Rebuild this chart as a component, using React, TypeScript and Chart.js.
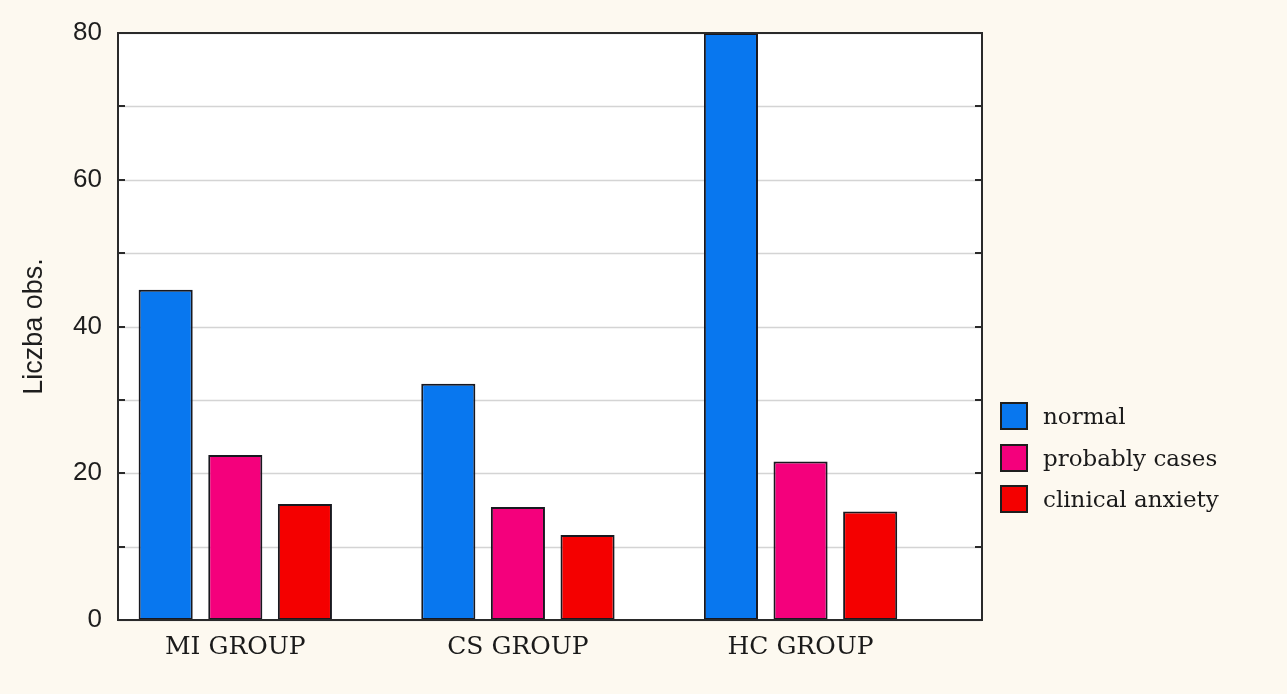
import React, { useEffect, useRef } from "react";
import Chart from "chart.js/auto";

// data
const groups = ["MI GROUP", "CS GROUP", "HC GROUP"];
const seriesNames = ["normal", "probably cases", "clinical anxiety"];
const normal = [45, 32.2, 80];
const probablyCases = [22.5, 15.4, 21.6];
const clinicalAnxiety = [15.8, 11.6, 14.8];
const yLabelTicks = [0, 20, 40, 60, 80];
const seriesColors = ["#0877ef", "#f4007c", "#f40000"];

const framePlugin = {
  id: "frame",
  beforeDatasetsDraw(chart: any) {
    const { ctx, chartArea } = chart;
    ctx.save();
    ctx.fillStyle = "#ffffff";
    ctx.fillRect(chartArea.left, chartArea.top, chartArea.right - chartArea.left, chartArea.bottom - chartArea.top);
    // grid lines every 10, drawn over the white fill
    const y = chart.scales.y;
    ctx.strokeStyle = "#d4d4d4";
    ctx.lineWidth = 1.5;
    ctx.beginPath();
    y.ticks.forEach((t: any) => {
      const py = Math.round(y.getPixelForValue(t.value)) + 0.5;
      ctx.moveTo(chartArea.left, py);
      ctx.lineTo(chartArea.right, py);
    });
    ctx.stroke();
    ctx.restore();
  },
  afterDatasetsDraw(chart: any) {
    const { ctx, chartArea } = chart;
    const { left, right, top, bottom } = chartArea;
    const y = chart.scales.y;
    ctx.save();
    ctx.strokeStyle = "#2a2a2a";
    ctx.lineWidth = 2;
    ctx.strokeRect(left, top, right - left, bottom - top);
    // inward tick marks on both sides
    ctx.beginPath();
    y.ticks.forEach((t: any) => {
      const py = Math.round(y.getPixelForValue(t.value));
      ctx.moveTo(left, py);
      ctx.lineTo(left + 7, py);
      ctx.moveTo(right, py);
      ctx.lineTo(right - 7, py);
    });
    ctx.stroke();
    ctx.restore();
  },
};

const App: React.FC = () => {
  const canvasRef = useRef<HTMLCanvasElement | null>(null);
  const chartRef = useRef<Chart | null>(null);

  useEffect(() => {
    document.body.style.margin = "0";
    if (!canvasRef.current) return;
    const ctx = canvasRef.current.getContext("2d");
    if (!ctx) return;
    chartRef.current?.destroy();

    const seriesData = [normal, probablyCases, clinicalAnxiety];

    chartRef.current = new Chart(ctx, {
      type: "bar",
      data: {
        datasets: seriesNames.map((name, i) => ({
          label: name,
          data: seriesData[i].map((v, j) => ({ x: j, y: v })),
          backgroundColor: seriesColors[i],
          borderColor: "#18181f",
          borderWidth: 2,
          borderSkipped: false,
          categoryPercentage: 0.739,
          barPercentage: 0.777,
        })),
      },
      options: {
        animation: false,
        responsive: true,
        maintainAspectRatio: false,
        layout: { padding: { left: 0, top: 33, right: 305, bottom: 0 } },
        plugins: {
          legend: { display: false },
          tooltip: { enabled: false },
        },
        scales: {
          x: {
            type: "linear",
            offset: false,
            min: -0.415,
            max: 2.642,
            afterBuildTicks: (scale: any) => {
              scale.ticks = groups.map((_, i) => ({ value: i }));
            },
            afterFit: (scale: any) => {
              scale.height = 74;
            },
            grid: { display: false, drawTicks: false },
            border: { display: true, color: "#2a2a2a", width: 2 },
            ticks: {
              padding: 12,
              color: "#1a1a1a",
              font: { family: "'DejaVu Serif', serif", size: 25 },
              callback: (v: any) => groups[v] ?? "",
            },
          },
          y: {
            min: 0,
            max: 80,
            afterFit: (scale: any) => {
              scale.width = 118;
            },
            grid: { display: false, drawTicks: false },
            border: { display: true, color: "#2a2a2a", width: 2 },
            ticks: {
              stepSize: 10,
              autoSkip: false,
              padding: 16,
              color: "#1e1e1e",
              font: { family: "'Liberation Sans Narrow', 'Liberation Sans', sans-serif", size: 26 },
              callback: (v: any) => (yLabelTicks.includes(v) ? String(v) : ""),
            },
            title: {
              display: true,
              text: "Liczba obs.",
              color: "#1e1e1e",
              font: { family: "'Liberation Sans', Arial, sans-serif", size: 27 },
              padding: { top: 18, bottom: 0 },
            },
          },
        },
      },
      plugins: [framePlugin],
    });

    return () => {
      chartRef.current?.destroy();
      chartRef.current = null;
    };
  }, []);

  return (
    <div
      style={{
        position: "relative",
        width: 1287,
        height: 694,
        background: "#fdf9f0",
        overflow: "hidden",
      }}
    >
      <canvas ref={canvasRef} />
      <div style={{ position: "absolute", left: 1000, top: 402, display: "flex", flexDirection: "column", gap: 13.5 }}>
        {seriesNames.map((name, i) => (
          <div key={name} style={{ display: "flex", alignItems: "center", height: 28 }}>
            <div
              style={{
                width: 28,
                height: 28,
                boxSizing: "border-box",
                border: "2px solid #1e1e1e",
                background: seriesColors[i],
              }}
            />
            <span
              style={{
                marginLeft: 15,
                fontFamily: "'DejaVu Serif', serif",
                fontSize: 23,
                color: "#1a1a1a",
                whiteSpace: "nowrap",
              }}
            >
              {name}
            </span>
          </div>
        ))}
      </div>
    </div>
  );
};

export default App;
